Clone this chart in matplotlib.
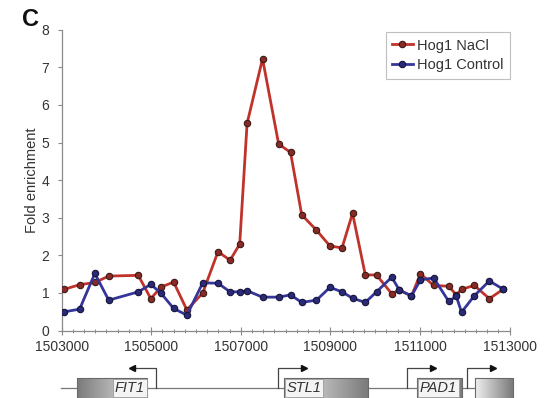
import numpy as np
import matplotlib
matplotlib.use("Agg")
import matplotlib.pyplot as plt
from matplotlib.ticker import MultipleLocator, FixedLocator, FixedFormatter
from matplotlib.colors import LinearSegmentedColormap

plt.rcParams['font.family'] = ['Liberation Sans', 'DejaVu Sans']

# ChIP probe positions (bp) and fold enrichment
positions = [1503060, 1503400, 1503740, 1504050, 1504710, 1504990, 1505220,
             1505500, 1505795, 1506150, 1506490, 1506760, 1506975, 1507140,
             1507485, 1507845, 1508110, 1508360, 1508690, 1508990, 1509260,
             1509495, 1509780, 1510030, 1510370, 1510540, 1510810, 1511012,
             1511307, 1511641, 1511812, 1511929, 1512216, 1512550, 1512860]
hog1_nacl = [1.10, 1.22, 1.28, 1.45, 1.47, 0.85, 1.16, 1.29, 0.55, 1.00,
             2.10, 1.87, 2.30, 5.51, 7.23, 4.96, 4.74, 3.08, 2.67, 2.25,
             2.20, 3.12, 1.48, 1.48, 0.98, 1.08, 0.92, 1.51, 1.20, 1.18,
             0.95, 1.10, 1.20, 0.85, 1.10]
hog1_control = [0.50, 0.57, 1.52, 0.81, 1.03, 1.23, 0.99, 0.59, 0.41, 1.27,
                1.26, 1.03, 1.03, 1.06, 0.89, 0.89, 0.95, 0.75, 0.81, 1.15,
                1.03, 0.86, 0.75, 1.03, 1.42, 1.08, 0.92, 1.35, 1.40, 0.78,
                0.91, 0.49, 0.93, 1.32, 1.10]
series_names = ["Hog1 NaCl", "Hog1 Control"]

x_ticks = [1503000, 1505000, 1507000, 1509000, 1511000, 1513000]
x_tick_labels = ["1503000", "1505000", "1507000", "1509000", "1511000", "1513000"]
y_ticks = [0, 1, 2, 3, 4, 5, 6, 7, 8]

# Gene annotation: name, box start, box end, TSS, direction, arrow tip
genes = [
    ("FIT1", 1503350, 1504915, 1505110, -1, 1504560),
    ("STL1", 1507960, 1509835, 1507830, 1, 1508400),
    ("PAD1", 1510940, 1511935, 1510720, 1, 1511300),
    ("", 1512225, 1513070, 1512060, 1, 1512640),
]
track_start = 1502980

W, H = 544, 398
fig = plt.figure(figsize=(W / 100, H / 100), dpi=100)

ax = fig.add_axes([61.7 / W, 1 - 330.6 / H, (509.5 - 61.7) / W, (330.6 - 29.8) / H])
ax.plot(positions, hog1_nacl, color="#c0332b", lw=2.0, marker="o", ms=4.6,
        mfc="#8a2a26", mec="#3a1a16", mew=0.8, zorder=3, label=series_names[0])
ax.plot(positions, hog1_control, color="#35359a", lw=2.0, marker="o", ms=4.6,
        mfc="#2a2a78", mec="#15153a", mew=0.8, zorder=4, label=series_names[1])

ax.set_xlim(1503000, 1513000)
ax.set_ylim(0, 8)
for s in ("top", "right"):
    ax.spines[s].set_visible(False)
for s in ("left", "bottom"):
    ax.spines[s].set_color("#8a8a8a")
    ax.spines[s].set_linewidth(0.9)

ax.xaxis.set_major_locator(FixedLocator(x_ticks))
ax.xaxis.set_major_formatter(FixedFormatter(x_tick_labels))
ax.xaxis.set_minor_locator(MultipleLocator(250))
ax.yaxis.set_major_locator(FixedLocator(y_ticks))
ax.tick_params(axis="x", which="major", direction="inout", length=6, width=0.8,
               color="#8a8a8a", labelsize=10, labelcolor="#333333", pad=4)
ax.tick_params(axis="x", which="minor", direction="inout", length=3, width=0.7,
               color="#8a8a8a")
ax.tick_params(axis="y", which="major", direction="out", length=3, width=0.8,
               color="#8a8a8a", labelsize=10, labelcolor="#333333", pad=6)
ax.set_ylabel("Fold enrichment", fontsize=10.5, color="#333333", labelpad=2)

leg = ax.legend(loc="upper right", bbox_to_anchor=(510 / W, 1 - 32 / H),
                bbox_transform=fig.transFigure, fontsize=10.5, frameon=True,
                fancybox=False, handlelength=1.4, handletextpad=0.3,
                borderpad=0.45, labelspacing=0.4, borderaxespad=0)
leg.get_frame().set_edgecolor("#b0b0b0")
leg.get_frame().set_linewidth(0.8)
for t in leg.get_texts():
    t.set_color("#333333")

fig.text(22 / W, 1 - 20 / H, "C", fontsize=17, fontweight="bold", va="center",
         ha="left", color="#111111")

# Gene track below the axis, sharing genomic coordinates
gax = fig.add_axes([61.7 / W, 0, (509.5 - 61.7) / W, 40 / H], sharex=ax)
gax.set_ylim(-10, 30)
gax.axis("off")

gray_lr = LinearSegmentedColormap.from_list("g", ["#f0f0f0", "#7a7a7a"])
grad = np.linspace(0, 1, 256).reshape(1, -1)

gax.plot([track_start, genes[-1][1]], [0, 0], color="#777777", lw=0.9,
         zorder=1, clip_on=False)
for name, start, end, tss, strand, tip in genes:
    img = grad if strand > 0 else grad[:, ::-1]
    gax.imshow(img, extent=(start, end, -12, 10), aspect="auto", cmap=gray_lr,
               zorder=2, clip_on=False, interpolation="bilinear")
    gax.plot([start, start, end, end], [-12, 10, 10, -12], color="#6a6a6a",
             lw=0.8, zorder=3, clip_on=False)
    # promoter arrow
    gax.plot([tss, tss, tip], [0, 20, 20], color="#444444", lw=0.9, zorder=3,
             clip_on=False)
    gax.plot([tip], [20], marker="<" if strand < 0 else ">", color="#111111",
             ms=5, zorder=4, clip_on=False)
    if name:
        lx = end - 60 if strand < 0 else start + 60
        gax.text(lx, 0, name, fontsize=10.5, style="italic", color="#333333",
                 ha="right" if strand < 0 else "left", va="center", zorder=5,
                 bbox=dict(boxstyle="square,pad=0.12", fc="#f4f4f4",
                           ec="#9a9a9a", lw=0.6))

fig.savefig("out.png", dpi=100)
